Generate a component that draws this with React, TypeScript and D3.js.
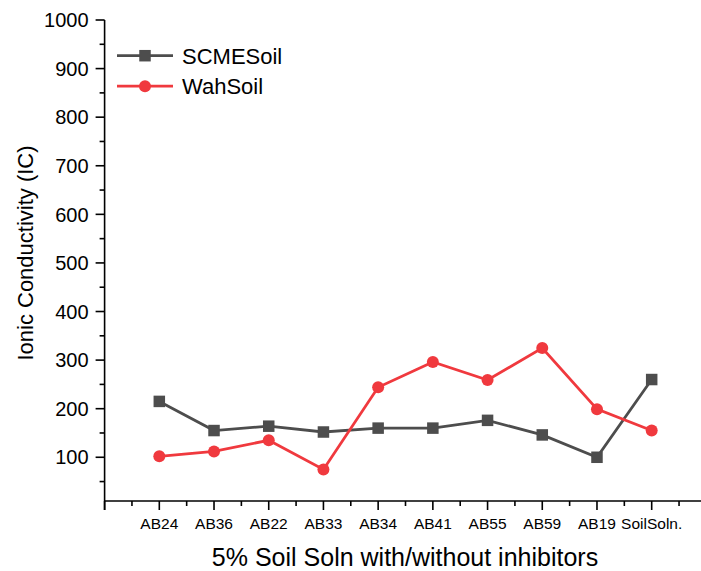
import React from "react";
import * as d3 from "d3";

const categories = ["AB24", "AB36", "AB22", "AB33", "AB34", "AB41", "AB55", "AB59", "AB19", "SoilSoln."];
const scmeSoil = [215, 155, 164, 152, 160, 160, 176, 146, 100, 260];
const wahSoil = [102, 112, 135, 75, 244, 296, 259, 325, 199, 155];
const yTicks = [100, 200, 300, 400, 500, 600, 700, 800, 900, 1000];
const yMinorTicks = [50, 150, 250, 350, 450, 550, 650, 750, 850, 950];

const series = [
  { name: "SCMESoil", values: scmeSoil, color: "#4d4d4d", marker: "square" },
  { name: "WahSoil", values: wahSoil, color: "#f0393e", marker: "circle" },
];

const W = 701;
const H = 571;
const FONT = "'Liberation Sans', Arial, Helvetica, sans-serif";

export default function App() {
  const x = d3.scaleLinear().domain([0, categories.length + 1]).range([104.6, 706.4]);
  const y = d3.scaleLinear().domain([10, 1000]).range([501, 20]);
  const line = d3
    .line<number>()
    .x((_, i) => x(i + 1))
    .y((d) => y(d));

  const majorX = d3.range(0, categories.length + 2);
  const minorX = d3.range(0.5, categories.length + 1, 1);

  return (
    <svg
      width={W}
      height={H}
      style={{ position: "absolute", left: 0, top: 0, background: "#fff" }}
      fontFamily={FONT}
    >
      {/* axes */}
      <g stroke="#000" strokeWidth={1.6} fill="none">
        <line x1={x(0)} x2={x(0)} y1={y(1000)} y2={y(10) + 9} />
        <line x1={x(0)} x2={W + 10} y1={y(10)} y2={y(10)} />
        {yTicks.map((t) => (
          <line key={"yt" + t} x1={x(0) - 9} x2={x(0)} y1={y(t)} y2={y(t)} />
        ))}
        {yMinorTicks.map((t) => (
          <line key={"ym" + t} x1={x(0) - 5} x2={x(0)} y1={y(t)} y2={y(t)} />
        ))}
        {majorX.map((t) => (
          <line key={"xt" + t} x1={x(t)} x2={x(t)} y1={y(10)} y2={y(10) + 9} />
        ))}
        {minorX.map((t) => (
          <line key={"xm" + t} x1={x(t)} x2={x(t)} y1={y(10)} y2={y(10) + 5} />
        ))}
      </g>

      {/* tick labels */}
      <g fontSize={20} textAnchor="end" fill="#000">
        {yTicks.map((t) => (
          <text key={"yl" + t} x={x(0) - 16} y={y(t)} dy="0.36em">
            {t}
          </text>
        ))}
      </g>
      <g fontSize={15.5} textAnchor="middle" fill="#000">
        {categories.map((c, i) => (
          <text key={c} x={x(i + 1)} y={529}>
            {c}
          </text>
        ))}
      </g>

      {/* axis titles */}
      <text x={405} y={566} fontSize={25} textAnchor="middle" fill="#000">
        5% Soil Soln with/without inhibitors
      </text>
      <text
        transform="translate(33,253) rotate(-90)"
        fontSize={22}
        textAnchor="middle"
        fill="#000"
      >
        Ionic Conductivity (IC)
      </text>

      {/* series */}
      {series.map((s) => (
        <g key={s.name}>
          <path d={line(s.values) || ""} fill="none" stroke={s.color} strokeWidth={2.8} />
          {s.values.map((v, i) =>
            s.marker === "square" ? (
              <rect key={i} x={x(i + 1) - 5.75} y={y(v) - 5.75} width={11.5} height={11.5} fill={s.color} />
            ) : (
              <circle key={i} cx={x(i + 1)} cy={y(v)} r={6} fill={s.color} />
            )
          )}
        </g>
      ))}

      {/* legend */}
      {series.map((s, i) => {
        const ly = 55.7 + i * 30.5;
        return (
          <g key={"lg" + s.name}>
            <line x1={117} x2={173} y1={ly} y2={ly} stroke={s.color} strokeWidth={2.8} />
            {s.marker === "square" ? (
              <rect x={145 - 5.75} y={ly - 5.75} width={11.5} height={11.5} fill={s.color} />
            ) : (
              <circle cx={145} cy={ly} r={6} fill={s.color} />
            )}
            <text x={182} y={ly} dy="0.36em" fontSize={22} fill="#000">
              {s.name}
            </text>
          </g>
        );
      })}
    </svg>
  );
}
